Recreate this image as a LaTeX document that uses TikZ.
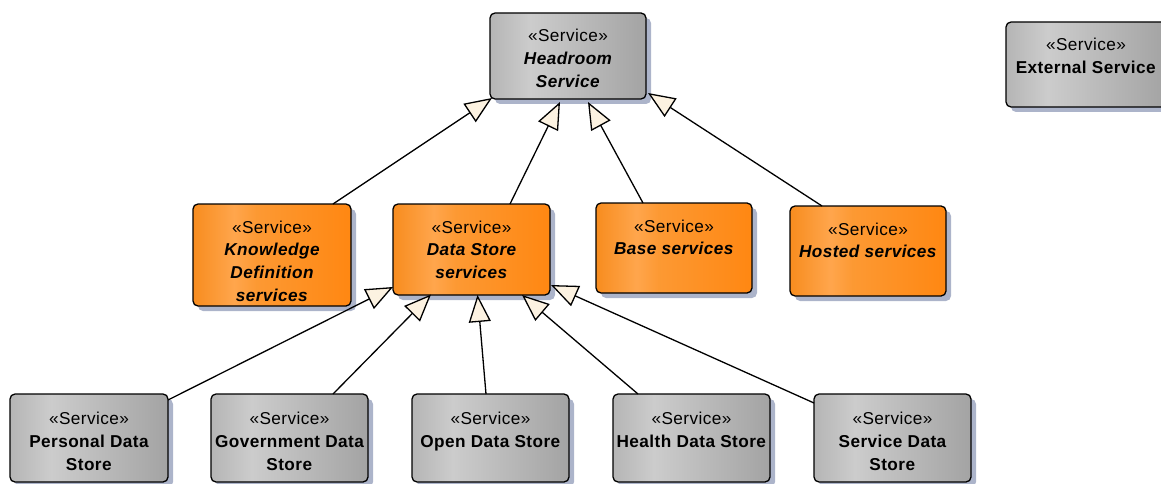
\documentclass[tikz,border=0pt]{standalone}
\usepackage{fontspec}
\setmainfont{Liberation Sans}[LetterSpace=2.5]
\usetikzlibrary{arrows.meta,shadows}
\definecolor{tipfill}{RGB}{252,242,225}
\definecolor{shadowc}{RGB}{172,180,202}
\pgfdeclarehorizontalshading{grayband}{100bp}{rgb(0bp)=(.71,.71,.71); rgb(25bp)=(.71,.71,.71); rgb(38bp)=(.80,.80,.80); rgb(45bp)=(.77,.77,.77); rgb(75bp)=(.64,.64,.64); rgb(100bp)=(.64,.64,.64)}
\pgfdeclarehorizontalshading{orangeband}{100bp}{rgb(0bp)=(.97,.55,.12); rgb(25bp)=(.97,.55,.12); rgb(38bp)=(1,.65,.30); rgb(45bp)=(.99,.60,.20); rgb(75bp)=(1,.53,.07); rgb(100bp)=(1,.53,.07)}
\newcommand{\boxtext}[4]{\parbox[c][#1][t]{#2}{\centering\fontsize{17.2}{22.8}\selectfont\vspace*{#4}\strut «Service»\\#3\strut\par}}
\tikzset{
  svcbox/.style={draw=black, line width=1.3pt, rounded corners=5pt, inner sep=0pt, outer sep=0pt,
    drop shadow={shadow xshift=5pt, shadow yshift=-5pt, fill=shadowc, opacity=1}},
  gsvc/.style={svcbox, shade, shading=grayband},
  osvc/.style={svcbox, shade, shading=orangeband},
  conn/.style={line width=1.3pt, draw=black, -{Triangle[length=27pt,width=22pt,fill=tipfill]}}
}
\begin{document}
\begin{tikzpicture}[x=1pt,y=-1pt]
\useasboundingbox (0,0) rectangle (1161,484);
\clip (0,0) rectangle (1161,484);
% top row
\node[gsvc] (hr) at (568,56) {\boxtext{86pt}{156pt}{\textbf{\textit{Headroom\\Service}}}{12.5pt}};
\node[gsvc] (ext) at (1086,64.5) {\boxtext{85pt}{160pt}{\textbf{External Service}}{13pt}};
% middle row
\node[osvc] (kn) at (272,255) {\boxtext{102pt}{158pt}{\textbf{\textit{Knowledge\\Definition\\services}}}{13.2pt}};
\node[osvc] (ds) at (471.5,249.5) {\boxtext{91pt}{157pt}{\textbf{\textit{Data Store\\services}}}{13.2pt}};
\node[osvc] (bs) at (674,248) {\boxtext{90pt}{156pt}{\textbf{\textit{Base services}}}{13.2pt}};
\node[osvc] (hs) at (868,251) {\boxtext{90pt}{156pt}{\textbf{\textit{Hosted services}}}{13.2pt}};
% bottom row
\node[gsvc] (pd) at (89,438) {\boxtext{88pt}{158pt}{\textbf{Personal Data\\Store}}{14.7pt}};
\node[gsvc] (gd) at (289.5,438) {\boxtext{88pt}{157pt}{\textbf{Government Data\\Store}}{14.7pt}};
\node[gsvc] (od) at (490.5,438) {\boxtext{88pt}{157pt}{\textbf{Open Data Store}}{14.7pt}};
\node[gsvc] (hd) at (691.5,438) {\boxtext{88pt}{157pt}{\textbf{Health Data Store}}{14.7pt}};
\node[gsvc] (sd) at (892.5,438) {\boxtext{88pt}{157pt}{\textbf{Service Data\\Store}}{14.7pt}};
% connectors to Headroom Service
\draw[conn] ([shift={(61,-51)}]kn.center) -- ([shift={(-76,42)}]hr.center);
\draw[conn] ([shift={(38.5,-45.5)}]ds.center) -- ([shift={(-8,46)}]hr.center);
\draw[conn] ([shift={(-31,-45)}]bs.center) -- ([shift={(20,46)}]hr.center);
\draw[conn] ([shift={(-46,-45)}]hs.center) -- ([shift={(80,37)}]hr.center);
% connectors to Data Store services
\draw[conn] ([shift={(79,-38)}]pd.center) -- ([shift={(-78.5,37.5)}]ds.center);
\draw[conn] ([shift={(43.5,-44)}]gd.center) -- ([shift={(-40.5,45)}]ds.center);
\draw[conn] ([shift={(-4.5,-44)}]od.center) -- ([shift={(6,45.5)}]ds.center);
\draw[conn] ([shift={(-53.5,-44)}]hd.center) -- ([shift={(50.5,45.5)}]ds.center);
\draw[conn] ([shift={(-78.5,-35)}]sd.center) -- ([shift={(79.5,35.5)}]ds.center);
\end{tikzpicture}
\end{document}
